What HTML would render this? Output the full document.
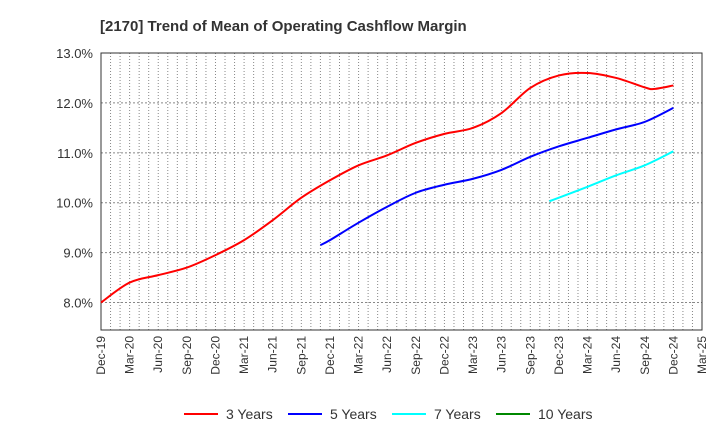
<!DOCTYPE html>
<html><head><meta charset="utf-8"><style>
body{margin:0;background:#fff;font-family:"Liberation Sans",sans-serif}
</style></head><body>
<svg id="c" width="720" height="440" xmlns="http://www.w3.org/2000/svg">
<text x="100" y="31" font-size="15" font-weight="bold" fill="#333">[2170]  Trend of Mean of Operating Cashflow Margin</text>
<g id="grid"></g><g id="axes"></g><g id="series"></g><g id="legend"></g>
</svg>
<script>
const xLabels=["Dec-19","Mar-20","Jun-20","Sep-20","Dec-20","Mar-21","Jun-21","Sep-21","Dec-21","Mar-22","Jun-22","Sep-22","Dec-22","Mar-23","Jun-23","Sep-23","Dec-23","Mar-24","Jun-24","Sep-24","Dec-24","Mar-25"];
const yTicks=[8,9,10,11,12,13];
// months since Dec-19
const m3=[0,3,6,9,12,15,18,21,24,27,30,33,36,39,42,45,48,51,54,57,58,60];
const v3=[8.0,8.4,8.55,8.7,8.95,9.25,9.65,10.1,10.45,10.75,10.95,11.2,11.38,11.5,11.8,12.3,12.55,12.6,12.5,12.31,12.28,12.35];
const m5=[23,24,27,30,33,36,39,42,45,48,51,54,57,60];
const v5=[9.15,9.25,9.6,9.92,10.2,10.36,10.48,10.66,10.92,11.13,11.3,11.47,11.62,11.9];
const m7=[47,48,51,54,57,60];
const v7=[10.03,10.1,10.32,10.55,10.75,11.03];
const m10=[];const v10=[];
const L=101,R=702,T=53,B=330,yMin=7.45,yMax=13;
const X=m=>L+m*(R-L)/63;
const Y=v=>T+(yMax-v)*(B-T)/(yMax-yMin);
const NS="http://www.w3.org/2000/svg";
function mk(p,t,a){const e=document.createElementNS(NS,t);for(const k in a)e.setAttribute(k,a[k]);p.appendChild(e);return e;}
const g=document.getElementById('grid'),ax=document.getElementById('axes'),s=document.getElementById('series'),lg=document.getElementById('legend');
for(let m=1;m<63;m++){const l=mk(g,'line',{x1:X(m),x2:X(m),y1:T,y2:B,stroke:'#888','stroke-dasharray':'1,2','stroke-width':1});

}
yTicks.forEach(v=>{const l=mk(g,'line',{x1:L,x2:R,y1:Y(v),y2:Y(v),stroke:'#888','stroke-dasharray':'2,2'});


const t=mk(ax,'text',{x:L-8,y:Y(v)+5,'text-anchor':'end','font-size':13,fill:'#333'});t.textContent=v.toFixed(1)+'%';

});
const fr=mk(ax,'rect',{x:L,y:T,width:R-L,height:B-T,fill:'none',stroke:'#333'});


xLabels.forEach((lab,i)=>{const x=X(i*3);const t=mk(ax,'text',{transform:`translate(${x+4},${B+6}) rotate(-90)`,'text-anchor':'end','font-size':12,fill:'#333'});t.textContent=lab;

});
function path(ms,vs){const p=ms.map((m,i)=>[X(m),Y(vs[i])]);if(!p.length)return'';let d=`M${p[0][0]},${p[0][1]}`;
for(let i=0;i<p.length-1;i++){const p0=p[i-1]||p[i],p1=p[i],p2=p[i+1],p3=p[i+2]||p2;
d+=` C${p1[0]+(p2[0]-p0[0])/6},${p1[1]+(p2[1]-p0[1])/6} ${p2[0]-(p3[0]-p1[0])/6},${p2[1]-(p3[1]-p1[1])/6} ${p2[0]},${p2[1]}`;}return d;}
const ser=[["3 Years",m3,v3,'#f00'],["5 Years",m5,v5,'#00f'],["7 Years",m7,v7,'#0ff'],["10 Years",m10,v10,'#080']];
ser.forEach(([n,ms,vs,c],i)=>{if(ms.length){const p=mk(s,'path',{d:path(ms,vs),fill:'none',stroke:c,'stroke-width':2});

}
const lx=[184,288,392,496][i];
const l=mk(lg,'line',{x1:lx,x2:lx+34,y1:414,y2:414,stroke:c,'stroke-width':2});


const t=mk(lg,'text',{x:lx+42,y:419,'font-size':14,fill:'#333'});t.textContent=n;

});
</script>
</body></html>
